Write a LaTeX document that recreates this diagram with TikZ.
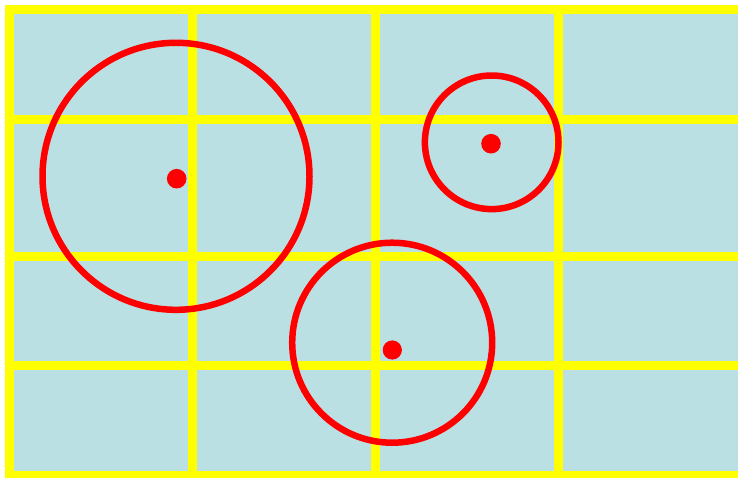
\documentclass[tikz,border=0pt]{standalone}
\definecolor{bgblue}{RGB}{187,224,227}
\definecolor{gridyellow}{RGB}{255,255,0}
\definecolor{ringred}{RGB}{255,0,0}
\tikzset{
  gridline/.style={draw=gridyellow, line width=9pt},
  ring/.style={draw=ringred, line width=6.5pt},
  centerdot/.style={fill=ringred}
}
\begin{document}
\begin{tikzpicture}[x=1pt,y=-1pt]
\useasboundingbox (0,0) rectangle (738,477);
\fill[white] (0,0) rectangle (738,477);
\clip (0,0) rectangle (738,477);
\fill[bgblue] (5,5) rectangle (745,485);
% grid
\foreach \yy in {9.5,119,256,365.5,475.5}
  \draw[gridline] (5,\yy) -- (745,\yy);
\foreach \xx in {9.5,192.5,375.5,558.5}
  \draw[gridline] (\xx,5) -- (\xx,485);
% circles
\draw[ring] (176,176.3) circle[radius=133.5];
\fill[centerdot] (176.7,178.7) circle[radius=9.8];
\draw[ring] (491.7,142.3) circle[radius=66.8];
\fill[centerdot] (491,143.7) circle[radius=9.8];
\draw[ring] (392.2,342.7) circle[radius=100];
\fill[centerdot] (392.3,350) circle[radius=9.6];
\end{tikzpicture}
\end{document}
